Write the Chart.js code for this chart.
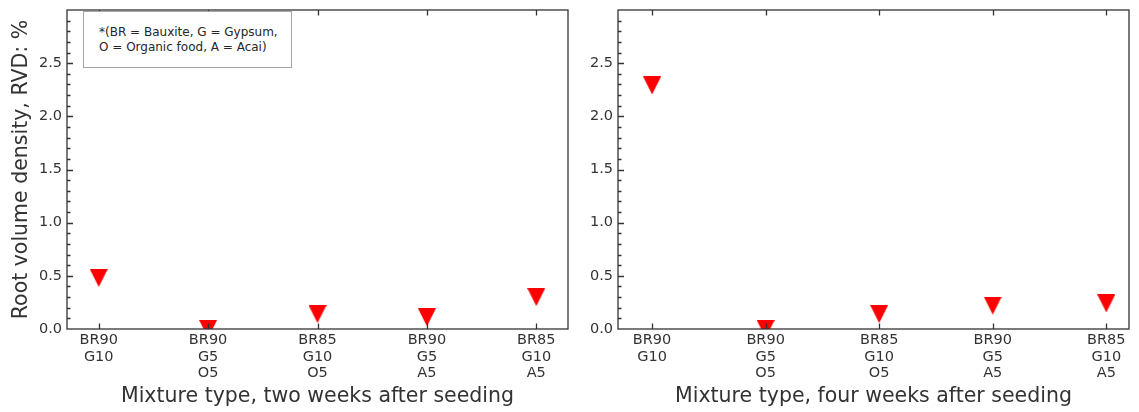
<!DOCTYPE html>
<html>
<head>
<meta charset="utf-8">
<script src="https://cdn.jsdelivr.net/npm/chart.js@4.4.1/dist/chart.umd.min.js"></script>
<style>
  html, body { margin: 0; padding: 0; background: #fff; }
  #wrap { position: relative; width: 1139px; height: 412px; overflow: hidden; font-family: "DejaVu Sans", sans-serif; }
  canvas { position: absolute; top: 0; }
  #c1 { left: 0; }
  #c2 { left: 590px; }
  .note {
    position: absolute; left: 83px; top: 11px; width: 209px; height: 57px;
    box-sizing: border-box; border: 1.5px solid #a6a6a6; background: #fff;
    padding: 13px 0 0 15px; font-size: 12px; line-height: 15px; color: #262626;
    white-space: nowrap;
  }
</style>
</head>
<body>
<div id="wrap">
  <canvas id="c1" width="590" height="412"></canvas>
  <canvas id="c2" width="549" height="412"></canvas>
  <div class="note">*(BR = Bauxite, G = Gypsum,<br>O = Organic food, A = Acai)</div>
</div>
<script>
// Mixture compositions (one label line per component)
const MIXTURES = [
  ['BR90', 'G10'],
  ['BR90', 'G5', 'O5'],
  ['BR85', 'G10', 'O5'],
  ['BR90', 'G5', 'A5'],
  ['BR85', 'G10', 'A5']
];
// Root volume density (%) per mixture
const RVD_TWO_WEEKS = [0.48, 0.0, 0.14, 0.11, 0.30];
const RVD_FOUR_WEEKS = [2.29, 0.0, 0.14, 0.22, 0.24];
// Y-axis tick labels
const Y_TICKS = [0.0, 0.5, 1.0, 1.5, 2.0, 2.5];
const Y_MINOR_STEP = 0.1;
const Y_MAX = 3.0;

const FONT = '"DejaVu Sans", sans-serif';
const TEXT = '#333';
const FRAME = '#333';
Chart.defaults.font.family = FONT;
Chart.defaults.color = TEXT;

// Downward red triangle marker
function makeMarker(size, color) {
  const c = document.createElement('canvas');
  c.width = size; c.height = size;
  const g = c.getContext('2d');
  g.fillStyle = color;
  g.beginPath();
  g.moveTo(0, 0);
  g.lineTo(size, 0);
  g.lineTo(size / 2, size);
  g.closePath();
  g.fill();
  return c;
}
const MARKER = makeMarker(18, '#ff0000');

// Box frame plus inward ticks, drawn over the markers
const framePlugin = {
  id: 'frame',
  afterDatasetsDraw(chart) {
    const { ctx, chartArea: a } = chart;
    const xs = chart.scales.x, ys = chart.scales.y;
    ctx.save();
    ctx.strokeStyle = FRAME;
    ctx.lineWidth = 1.3;
    ctx.beginPath();
    MIXTURES.forEach((_, i) => {
      const px = Math.round(xs.getPixelForValue(i)) + 0.5;
      ctx.moveTo(px, a.bottom); ctx.lineTo(px, a.bottom - 5.5);
      ctx.moveTo(px, a.top); ctx.lineTo(px, a.top + 5.5);
    });
    const nMinor = Math.round(Y_MAX / Y_MINOR_STEP);
    for (let k = 1; k < nMinor; k++) {
      const v = k * Y_MINOR_STEP;
      const major = Y_TICKS.some(t => Math.abs(t - v) < 1e-6);
      const py = Math.round(ys.getPixelForValue(v)) + 0.5;
      ctx.moveTo(a.left, py); ctx.lineTo(a.left + (major ? 6 : 3.5), py);
    }
    ctx.stroke();
    ctx.strokeRect(a.left, a.top, a.right - a.left, a.bottom - a.top);
    ctx.restore();
  }
};

function makeChart(id, values, xTitle, opts) {
  return new Chart(document.getElementById(id), {
    type: 'scatter',
    data: {
      datasets: [{
        data: values.map((v, i) => ({ x: i, y: v })),
        pointStyle: MARKER,
        pointRadius: 9,
        pointHoverRadius: 9,
        showLine: false,
        clip: 0
      }]
    },
    options: {
      responsive: false,
      animation: false,
      devicePixelRatio: 1,
      layout: { padding: { left: 0, right: opts.padRight, top: 6.5, bottom: 0 } },
      plugins: { legend: { display: false }, tooltip: { enabled: false } },
      scales: {
        x: {
          type: 'linear',
          min: opts.xMin, max: opts.xMax,
          afterBuildTicks: s => { s.ticks = MIXTURES.map((_, i) => ({ value: i })); },
          afterFit: s => { s.height = 83; s.paddingLeft = 0; s.paddingRight = 0; },
          grid: { display: false, drawTicks: false },
          border: { display: false },
          ticks: {
            autoSkip: false, maxRotation: 0, minRotation: 0, padding: 3,
            color: TEXT, font: { size: 14.5, lineHeight: 1.15 },
            callback: v => MIXTURES[v]
          },
          title: {
            display: true, text: xTitle, color: TEXT,
            font: { size: 20.5 }, padding: { top: 3, bottom: 3 }
          }
        },
        y: {
          min: 0, max: Y_MAX,
          afterBuildTicks: s => { s.ticks = Y_TICKS.map(v => ({ value: v })); },
          afterFit: s => { s.width = opts.yWidth; s.paddingTop = 0; s.paddingBottom = 0; },
          grid: { display: false, drawTicks: false },
          border: { display: false },
          ticks: {
            padding: 5, color: TEXT, font: { size: 14.5 },
            callback: v => Number(v).toFixed(1)
          },
          title: {
            display: opts.yTitle, text: 'Root volume density, RVD: %', color: TEXT,
            font: { size: 20.5 }, padding: { top: 9, bottom: 0 }
          }
        }
      }
    },
    plugins: [framePlugin]
  });
}

makeChart('c1', RVD_TWO_WEEKS, 'Mixture type, two weeks after seeding',
  { xMin: -0.29, xMax: 4.29, padRight: 22, yWidth: 67, yTitle: true });
makeChart('c2', RVD_FOUR_WEEKS, 'Mixture type, four weeks after seeding',
  { xMin: -0.3, xMax: 4.2, padRight: 4, yWidth: 28, yTitle: false });
</script>
</body>
</html>
